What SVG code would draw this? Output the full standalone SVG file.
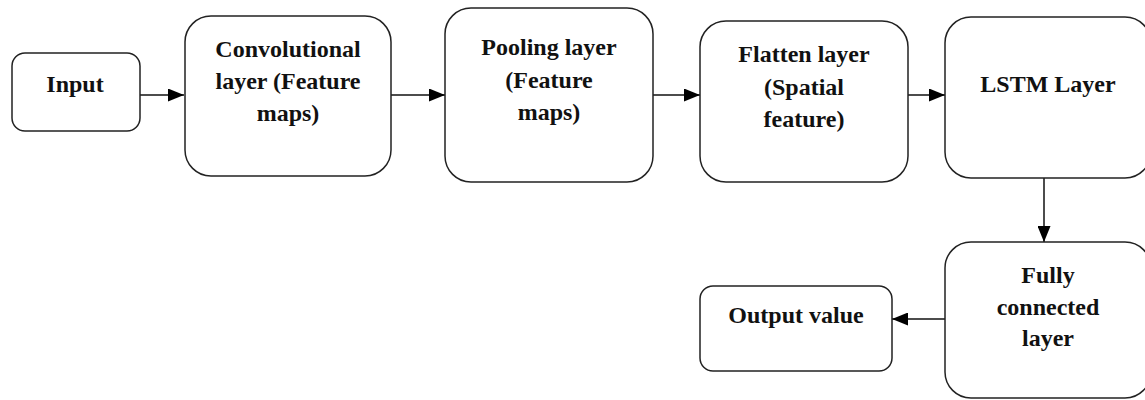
<svg xmlns="http://www.w3.org/2000/svg" width="1145" height="400" viewBox="0 0 1145 400">
<style>
.box{fill:#fff;stroke:#222;stroke-width:1.5}
.t{font-family:"Liberation Serif","Times New Roman",serif;font-weight:bold;font-size:24px;fill:#111;text-anchor:middle}
.c{stroke:#111;stroke-width:1.5;fill:none}
</style>
<defs>
<marker id="ah" markerWidth="16" markerHeight="13" refX="16" refY="6.5" orient="auto" markerUnits="userSpaceOnUse">
<path d="M0,0 L16,6.5 L0,13 Z" fill="#000"/>
</marker>
</defs>
<rect width="1145" height="400" fill="#fff"/>
<g id="connectors">
<line class="c" x1="140" y1="95" x2="184" y2="95" marker-end="url(#ah)"/>
<line class="c" x1="391" y1="95" x2="445" y2="95" marker-end="url(#ah)"/>
<line class="c" x1="653" y1="95" x2="700" y2="95" marker-end="url(#ah)"/>
<line class="c" x1="908" y1="95" x2="945" y2="95" marker-end="url(#ah)"/>
<line class="c" x1="1044" y1="178" x2="1044" y2="242" marker-end="url(#ah)"/>
<line class="c" x1="945" y1="319" x2="892" y2="319" marker-end="url(#ah)"/>
</g>
<g id="input">
<rect class="box" x="12" y="53" width="128" height="78" rx="13"/>
<text class="t" x="75" y="92">Input</text>
</g>
<g id="conv">
<rect class="box" x="185" y="16" width="206" height="160" rx="26"/>
<text class="t" x="288" y="57">Convolutional</text>
<text class="t" x="288" y="89">layer (Feature</text>
<text class="t" x="288" y="121">maps)</text>
</g>
<g id="pooling">
<rect class="box" x="445" y="8" width="208" height="174" rx="26"/>
<text class="t" x="549" y="55">Pooling layer</text>
<text class="t" x="549" y="88">(Feature</text>
<text class="t" x="549" y="120">maps)</text>
</g>
<g id="flatten">
<rect class="box" x="700" y="21" width="208" height="161" rx="26"/>
<text class="t" x="804" y="62">Flatten layer</text>
<text class="t" x="804" y="95">(Spatial</text>
<text class="t" x="804" y="127">feature)</text>
</g>
<g id="lstm">
<rect class="box" x="945" y="17" width="206" height="161" rx="26"/>
<text class="t" x="1048" y="92">LSTM Layer</text>
</g>
<g id="fc">
<rect class="box" x="945" y="242" width="206" height="156" rx="26"/>
<text class="t" x="1048" y="283">Fully</text>
<text class="t" x="1048" y="315">connected</text>
<text class="t" x="1048" y="346">layer</text>
</g>
<g id="output">
<rect class="box" x="700" y="286" width="192" height="85" rx="13"/>
<text class="t" x="796" y="323">Output value</text>
</g>
</svg>
